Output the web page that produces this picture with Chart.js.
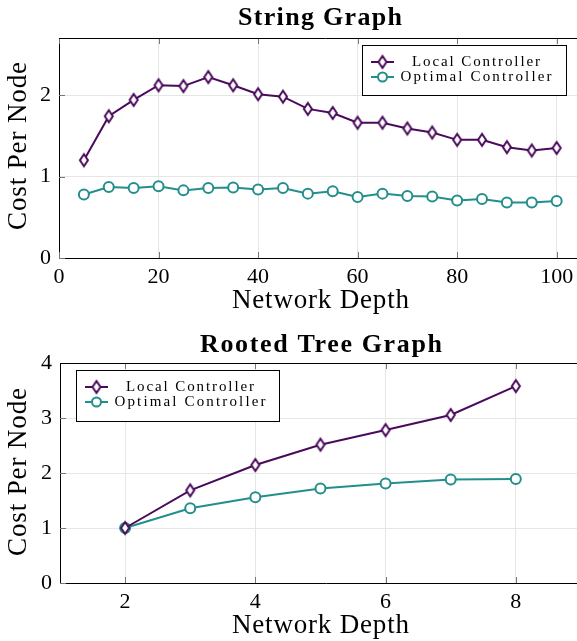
<!DOCTYPE html>
<html>
<head>
<meta charset="utf-8">
<script src="https://cdn.jsdelivr.net/npm/chart.js@4"></script>
<style>
  html, body { margin: 0; background: #fff; overflow: hidden; }
  canvas { display: block; }
</style>
</head>
<body>
<canvas id="string-chart" width="592" height="320"></canvas>
<canvas id="tree-chart" width="592" height="321"></canvas>
<script>
// data
const stringDepth = [5, 10, 15, 20, 25, 30, 35, 40, 45, 50, 55, 60, 65, 70, 75, 80, 85, 90, 95, 100];
const stringLocal = [1.20, 1.74, 1.94, 2.12, 2.11, 2.22, 2.12, 2.01, 1.98, 1.83, 1.78, 1.66, 1.66, 1.59, 1.54, 1.45, 1.45, 1.36, 1.32, 1.35];
const stringOptimal = [0.78, 0.87, 0.86, 0.88, 0.83, 0.86, 0.865, 0.84, 0.86, 0.79, 0.82, 0.75, 0.79, 0.76, 0.755, 0.705, 0.725, 0.68, 0.68, 0.70];
const stringXTicks = [0, 20, 40, 60, 80, 100];
const stringYTicks = [0, 1, 2];

const treeDepth = [2, 3, 4, 5, 6, 7, 8];
const treeLocal = [1.0, 1.685, 2.145, 2.515, 2.78, 3.055, 3.58];
const treeOptimal = [1.0, 1.36, 1.56, 1.72, 1.81, 1.88, 1.89];
const treeXTicks = [2, 4, 6, 8];
const treeYTicks = [0, 1, 2, 3, 4];

const seriesNames = ['Local Controller', 'Optimal Controller'];
const xTitle = 'Network Depth';
const yTitle = 'Cost Per Node';

const LOCAL_COLOR = '#4a0a5c';
const OPTIMAL_COLOR = '#238f8c';
const GRID_COLOR = '#e6e6e6';
const FONT = '"Liberation Serif", "DejaVu Serif", serif';

// tall open diamond like the pgfplots one
function makeDiamond() {
    const c = document.createElement('canvas');
    c.width = 14; c.height = 18;
    const ctx = c.getContext('2d');
    ctx.beginPath();
    ctx.moveTo(7, 3);
    ctx.lineTo(11, 9);
    ctx.lineTo(7, 15);
    ctx.lineTo(3, 9);
    ctx.closePath();
    ctx.fillStyle = '#fff';
    ctx.fill();
    ctx.lineWidth = 2;
    ctx.strokeStyle = LOCAL_COLOR;
    ctx.stroke();
    return c;
}
const diamond = makeDiamond();

function points(xs, ys) {
    return xs.map((x, i) => ({ x: x, y: ys[i] }));
}

// the reference font is wider than Liberation Serif, so stretch with letter spacing
function spacedText(ctx, text, x, y, width, angle) {
    ctx.save();
    ctx.letterSpacing = '0px';
    const w = ctx.measureText(text).width;
    const gap = Math.max(0, (width - w) / (text.length - 1));
    ctx.letterSpacing = gap + 'px';
    ctx.translate(x, y);
    if (angle) ctx.rotate(angle);
    ctx.textAlign = 'left';
    ctx.textBaseline = 'middle';
    ctx.fillText(text, -width / 2, 0);
    ctx.restore();
}

// title, axis titles, frame, inner tick marks and legend drawn by hand
const decorations = {
    id: 'decorations',
    afterDraw(chart, args, opts) {
        const ctx = chart.ctx;
        const area = chart.chartArea;
        const xs = chart.scales.x, ys = chart.scales.y;
        ctx.save();

        // pgfplots style tick marks pointing into the plot
        ctx.strokeStyle = '#777';
        ctx.lineWidth = 1;
        ctx.beginPath();
        xs.ticks.forEach(t => {
            const px = Math.round(xs.getPixelForValue(t.value)) + 0.5;
            ctx.moveTo(px, area.bottom);
            ctx.lineTo(px, area.bottom - 6);
            ctx.moveTo(px, area.top);
            ctx.lineTo(px, area.top + 6);
        });
        ys.ticks.forEach(t => {
            const py = Math.round(ys.getPixelForValue(t.value)) + 0.5;
            ctx.moveTo(area.left, py);
            ctx.lineTo(area.left + 6, py);
        });
        ctx.stroke();

        ctx.strokeStyle = '#000';
        ctx.beginPath();
        ctx.moveTo(area.left, area.top + 0.5);
        ctx.lineTo(area.right, area.top + 0.5);
        ctx.stroke();

        ctx.fillStyle = '#000';
        ctx.font = 'bold 26px ' + FONT;
        spacedText(ctx, opts.title, opts.titleX, opts.titleY, opts.titleW);

        ctx.font = '27px ' + FONT;
        spacedText(ctx, xTitle, 320.5, opts.xTitleY, 177);
        spacedText(ctx, yTitle, 19, opts.yTitleY, 168, -Math.PI / 2);

        const b = opts.box;
        ctx.fillStyle = '#fff';
        ctx.fillRect(b.x, b.y, b.w, b.h);
        ctx.strokeRect(b.x + 0.5, b.y + 0.5, b.w, b.h);

        const rows = [
            { name: seriesNames[0], color: LOCAL_COLOR, y: b.y + 17, w: 128 },
            { name: seriesNames[1], color: OPTIMAL_COLOR, y: b.y + 32, w: 151 }
        ];
        ctx.font = '15px ' + FONT;
        rows.forEach((r, i) => {
            ctx.strokeStyle = r.color;
            ctx.lineWidth = 2;
            ctx.beginPath();
            ctx.moveTo(b.x + 9, r.y);
            ctx.lineTo(b.x + 32, r.y);
            ctx.stroke();
            const mx = b.x + 20.5;
            if (i === 0) {
                ctx.drawImage(diamond, mx - 7, r.y - 9);
            } else {
                ctx.beginPath();
                ctx.arc(mx, r.y, 4.5, 0, Math.PI * 2);
                ctx.fillStyle = '#fff';
                ctx.fill();
                ctx.stroke();
            }
            ctx.fillStyle = '#000';
            spacedText(ctx, r.name, b.x + 114, r.y, r.w);
        });
        ctx.restore();
    }
};

function makeChart(canvasId, xs, local, optimal, cfg) {
    const canvas = document.querySelector(canvasId);
    // only the listed tick values get a grid line
    const gridColor = list => c => (c.tick && list.includes(c.tick.value)) ? GRID_COLOR : 'rgba(0,0,0,0)';
    return new Chart(canvas.getContext('2d'), {
        type: 'line',
        data: {
            datasets: [{
                label: seriesNames[0],
                data: points(xs, local),
                borderColor: LOCAL_COLOR,
                borderWidth: 2,
                pointStyle: diamond,
                pointRadius: 6
            }, {
                label: seriesNames[1],
                data: points(xs, optimal),
                borderColor: OPTIMAL_COLOR,
                backgroundColor: '#fff',
                borderWidth: 2,
                pointStyle: 'circle',
                pointRadius: 5,
                pointBorderWidth: 2,
                pointBackgroundColor: '#fff'
            }]
        },
        options: {
            responsive: false,
            animation: false,
            layout: { autoPadding: false, padding: { top: cfg.top, left: 0, right: 0, bottom: 0 } },
            plugins: {
                legend: { display: false },
                tooltip: { enabled: false },
                decorations: cfg.deco
            },
            scales: {
                x: {
                    type: 'linear',
                    min: cfg.xMin,
                    max: cfg.xMax,
                    afterFit: s => { s.height = cfg.xHeight; s.paddingLeft = 0; s.paddingRight = 0; },
                    afterBuildTicks: s => { s.ticks = s.ticks.filter(t => cfg.xTicks.includes(t.value)); },
                    ticks: {
                        stepSize: cfg.xStep,
                        includeBounds: false,
                        color: '#000',
                        padding: 6,
                        font: { family: FONT, size: 22 },
                        maxRotation: 0
                    },
                    grid: { color: gridColor(cfg.xTicks), drawTicks: false },
                    border: { color: '#000', width: 1 }
                },
                y: {
                    min: 0,
                    max: cfg.yMax,
                    afterFit: s => { s.width = cfg.yWidth; s.paddingTop = 0; s.paddingBottom = 0; },
                    afterBuildTicks: s => { s.ticks = s.ticks.filter(t => cfg.yTicks.includes(t.value)); },
                    ticks: {
                        stepSize: 1,
                        includeBounds: false,
                        color: '#000',
                        padding: 8,
                        font: { family: FONT, size: 22 }
                    },
                    grid: { color: gridColor(cfg.yTicks), drawTicks: false },
                    border: { color: '#000', width: 1 }
                }
            }
        },
        plugins: [decorations]
    });
}

// the reference crops both plots at the right edge; the canvases run a little past the window
makeChart('#string-chart', stringDepth, stringLocal, stringOptimal, {
    top: 38, xHeight: 62, yWidth: 59,
    xMin: 0, xMax: 107.1, xStep: 20, xTicks: stringXTicks,
    yMax: 2.7, yTicks: stringYTicks,
    deco: {
        title: 'String Graph', titleX: 320, titleY: 18, titleW: 164,
        xTitleY: 301, yTitleY: 146,
        box: { x: 362, y: 45, w: 204, h: 50 }
    }
});

makeChart('#tree-chart', treeDepth, treeLocal, treeOptimal, {
    top: 43, xHeight: 58, yWidth: 60,
    xMin: 1, xMax: 9.17, xStep: 2, xTicks: treeXTicks,
    yMax: 4, yTicks: treeYTicks,
    deco: {
        title: 'Rooted Tree Graph', titleX: 321, titleY: 25, titleW: 242,
        xTitleY: 306, yTitleY: 152,
        box: { x: 76, y: 50, w: 203, h: 51 }
    }
});
</script>
</body>
</html>
